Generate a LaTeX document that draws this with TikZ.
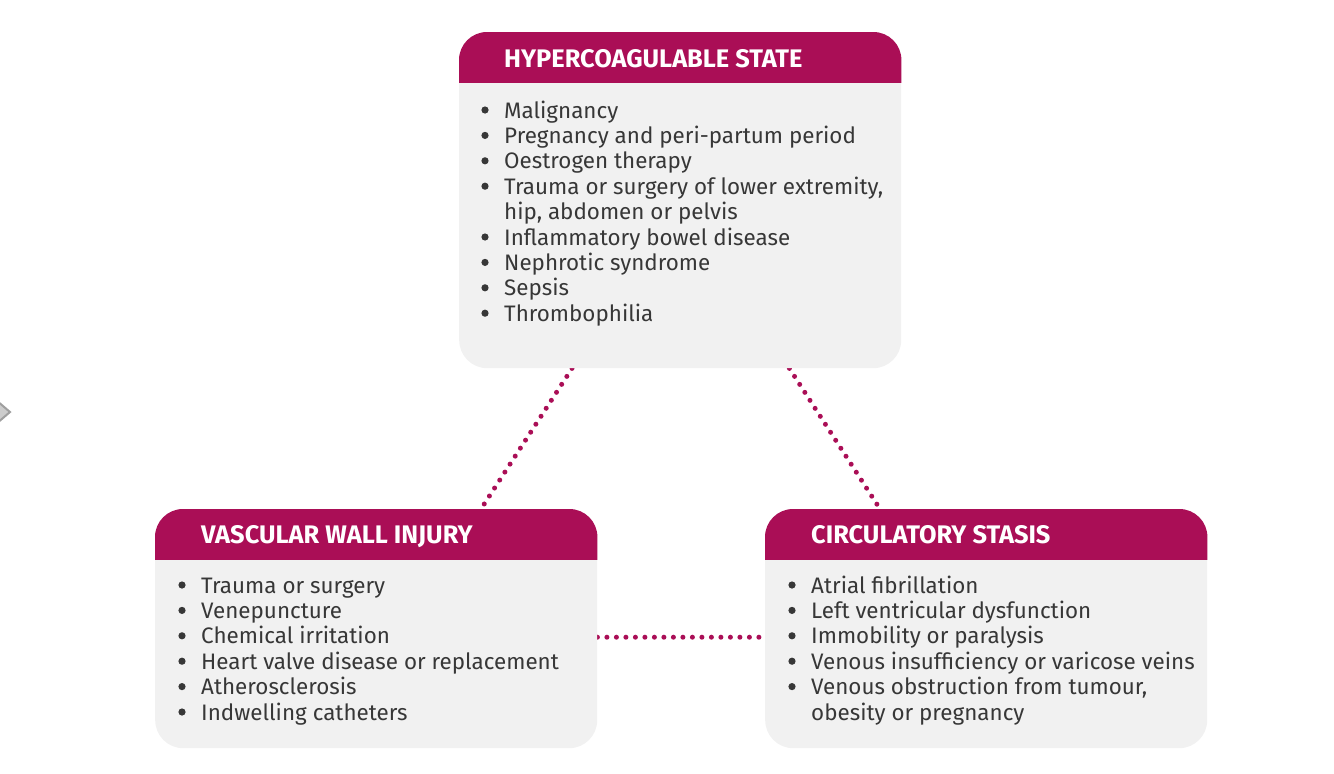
\documentclass[tikz,border=0pt]{standalone}
\usepackage{fontspec}
\setmainfont{Fira Sans}
\usetikzlibrary{positioning,backgrounds}
\definecolor{colAccent}{RGB}{170,14,86}
\definecolor{colPanel}{RGB}{241,241,241}
\definecolor{colText}{RGB}{55,55,55}

\begin{document}
\begin{tikzpicture}[x=1pt, y=-1pt,
    panel/.style={fill=colPanel, rounded corners=28pt, minimum width=442pt, inner sep=0pt, anchor=north west},
    headText/.style={anchor=base west, text=white, inner sep=0pt, font=\fontsize{25.4}{28}\selectfont\bfseries},
    listText/.style={anchor=base west, text=colText, inner sep=0pt, font=\fontsize{22.4}{25.4}\selectfont},
    dotLink/.style={colAccent, line width=5pt, line cap=round, dash pattern=on 0pt off 9.5pt}]
    \useasboundingbox (0,0) rectangle (1334,774);

    % the three panels
    \node[panel, minimum height=336pt] (hyp) at (459,32) {};
    \node[panel, minimum height=239pt] (vwi) at (155,509) {};
    \node[panel, minimum height=239pt] (cst) at (765,509) {};

    % header bands
    \foreach \p in {hyp,vwi,cst} {
        \begin{scope}
            \clip (\p.north west) rectangle ([yshift=-50pt]\p.north east);
            \fill[colAccent, rounded corners=28pt] (\p.north west) rectangle (\p.south east);
        \end{scope}
    }

    \node[headText] (hypHead) at (504,67) {HYPERCOAGULABLE STATE};
    \node[headText] (vwiHead) at (201,543) {VASCULAR WALL INJURY};
    \node[headText] (cstHead) at (811,543) {CIRCULATORY STASIS};

    % lists
    \node[listText] (hypList) at (504,118) {\begin{tabular}[t]{@{}l@{}}
        Malignancy\\
        Pregnancy and peri-partum period\\
        Oestrogen therapy\\
        Trauma or surgery of lower extremity,\\
        hip, abdomen or pelvis\\
        Inflammatory bowel disease\\
        Nephrotic syndrome\\
        Sepsis\\
        Thrombophilia
    \end{tabular}};
    \node[listText] (vwiList) at (201,593) {\begin{tabular}[t]{@{}l@{}}
        Trauma or surgery\\
        Venepuncture\\
        Chemical irritation\\
        Heart valve disease or replacement\\
        Atherosclerosis\\
        Indwelling catheters
    \end{tabular}};
    \node[listText] (cstList) at (811,593) {\begin{tabular}[t]{@{}l@{}}
        Atrial fibrillation\\
        Left ventricular dysfunction\\
        Immobility or paralysis\\
        Venous insufficiency or varicose veins\\
        Venous obstruction from tumour,\\
        obesity or pregnancy
    \end{tabular}};

    % bullets
    \foreach \k in {0,1,2,3,5,6,7,8}
        \fill[colText] (485,110+25.4*\k) circle (3.6);
    \foreach \k in {0,...,5}
        \fill[colText] (182,585+25.4*\k) circle (3.6);
    \foreach \k in {0,...,4}
        \fill[colText] (792,585+25.4*\k) circle (3.6);

    % dotted links behind the panels
    \begin{scope}[on background layer]
        \draw[dotLink] ([xshift=113pt]hyp.south west) -- ([xshift=326pt]vwi.north west);
        \draw[dotLink] ([xshift=-112pt]hyp.south east) -- ([xshift=115pt]cst.north west);
        \draw[dotLink] ([yshift=-8.5pt]vwi.east) -- ([yshift=-8.5pt]cst.west);
    \end{scope}

    % cut-off marker at the left edge
    \draw[draw=gray!75, fill=gray!40, line width=2pt] (-4,400) -- (10,412) -- (-4,424) -- cycle;
\end{tikzpicture}
\end{document}
